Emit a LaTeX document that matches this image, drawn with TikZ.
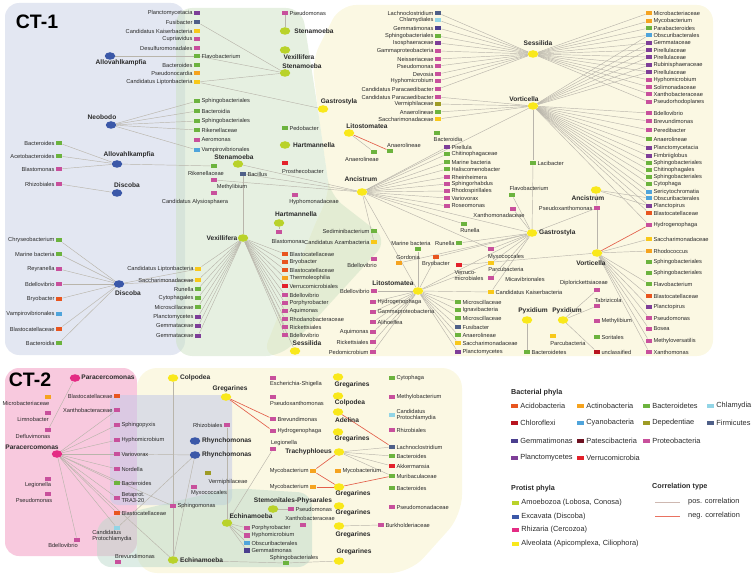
\documentclass[tikz,border=0pt]{standalone}
\usepackage{fontspec}
\setmainfont{Liberation Sans}
\usetikzlibrary{shapes.geometric}
\definecolor{acido}{HTML}{E8551F}
\definecolor{actino}{HTML}{F5A31F}
\definecolor{bactd}{HTML}{6CB33E}
\definecolor{chlam}{HTML}{92D5E6}
\definecolor{chloro}{HTML}{B8141F}
\definecolor{cyano}{HTML}{4FA4DB}
\definecolor{depend}{HTML}{9E9B25}
\definecolor{firmi}{HTML}{4F6088}
\definecolor{gemma}{HTML}{4B3F8F}
\definecolor{patesL}{HTML}{6E1222}
\definecolor{pates}{HTML}{F8C81A}
\definecolor{proteo}{HTML}{C8509C}
\definecolor{plancto}{HTML}{7E3E98}
\definecolor{verruco}{HTML}{E3212B}
\definecolor{amoeb}{HTML}{B9D22A}
\definecolor{excav}{HTML}{3B58A8}
\definecolor{rhiz}{HTML}{E42C84}
\definecolor{alveo}{HTML}{F9E81B}
\definecolor{edgec}{HTML}{B9B5AB}
\definecolor{negc}{HTML}{E35F4A}
\definecolor{txt}{HTML}{2A2A2A}
\definecolor{rgBlue}{HTML}{E3E7F2}
\definecolor{rgGreen}{HTML}{CDE2C4}
\definecolor{rgYellow}{HTML}{FBF8E3}
\definecolor{rgPink}{HTML}{F8C9DE}
\definecolor{rgBlueB}{HTML}{C4CAE8}
\definecolor{rgTeal}{HTML}{BCDACB}
\pgfdeclarelayer{bg}
\pgfdeclarelayer{edges}
\pgfsetlayers{bg,edges,main}
\tikzset{
 sq/.style={rectangle, minimum width=6.6pt, minimum height=4.6pt, inner sep=0pt},
 pr/.style={ellipse, minimum width=10.5pt, minimum height=7.5pt, inner sep=0pt},
 lab/.style={font=\fontsize{5.7}{5.9}\selectfont, inner sep=0.8pt, text=txt, align=left},
 plab/.style={font=\bfseries\fontsize{6.6}{7}\selectfont, inner sep=0.5pt, text=txt},
 ed/.style={draw=edgec, line width=0.45pt},
 neg/.style={draw=negc, line width=0.65pt},
 lsq/.style={rectangle, minimum width=7pt, minimum height=4.6pt, inner sep=0pt},
 ltx/.style={font=\fontsize{7.4}{8}\selectfont, inner sep=0pt, text=txt},
 lhd/.style={font=\bfseries\fontsize{7.2}{8}\selectfont, inner sep=0pt, text=txt, anchor=west},
 ttl/.style={font=\bfseries\fontsize{19.5}{20}\selectfont, inner sep=0pt, text=black},
}
\newcommand\SL[4]{\node[sq,fill=#2] (#1) at (#3) {};\node[lab,anchor=east] (#1t) at (#1.west) {#4};}
\newcommand\SR[4]{\node[sq,fill=#2] (#1) at (#3) {};\node[lab,anchor=west] (#1t) at (#1.east) {#4};}
\newcommand\SX[5]{\node[sq,fill=#2] (#1) at (#3) {};\node[lab] (#1t) at (#4) {#5};}
\newcommand\PX[5]{\node[pr,fill=#2] (#1) at (#3) {};\node[plab] (#1t) at (#4) {#5};}
\newcommand\PR[4]{\node[pr,fill=#2] (#1) at (#3) {};\node[plab,anchor=west] (#1t) at ([xshift=1pt]#1.east) {#4};}
\newcommand\PLL[4]{\node[pr,fill=#2] (#1) at (#3) {};\node[plab,anchor=east] (#1t) at ([xshift=-1pt]#1.west) {#4};}
\newcommand\LG[4]{\node[lsq,fill=#2] (#1) at (#3) {};\node[ltx,anchor=west] (#1t) at ([xshift=2.5pt]#1.east) {#4};}
\begin{document}
\begin{tikzpicture}[x=1pt,y=-1pt]
\useasboundingbox (0,0) rectangle (753,575);
% ---------------- CT-1 ----------------
\node[ttl] (ct1) at (37,22) {CT-1};
\SL{a1}{plancto}{197,13}{Planctomycetacia}
\SL{a2}{firmi}{197,22}{Fusibacter}
\SL{a3}{pates}{197,31}{Candidatus Kaiserbacteria}
\SL{a4}{proteo}{197,39}{Cupriavidus}
\SL{a5}{proteo}{197,48}{Desulfuromonadales}
\SR{a6}{bactd}{197,56}{Flavobacterium}
\SL{a7}{bactd}{197,65}{Bacteroides}
\SL{a8}{actino}{197,73}{Pseudonocardia}
\SL{a9}{pates}{197,82}{Candidatus Liptonbacteria}
\PX{pA1}{excav}{110,56}{121,63}{Allovahlkampfia}
\PX{pNeo}{excav}{111,125}{102,117}{Neobodo}
\SR{b1}{bactd}{197,101}{Sphingobacteriales}
\SR{b2}{bactd}{197,111}{Bacteroidia}
\SR{b3}{bactd}{197,121}{Sphingobacteriales}
\SR{b4}{bactd}{197,130}{Rikenellaceae}
\SR{b5}{proteo}{197,140}{Aeromonas}
\SR{b6}{cyano}{197,150}{Vampirovibrionales}
\SL{c1}{bactd}{59,143}{Bacteroides}
\SL{c2}{bactd}{59,156}{Acetobacteroides}
\SL{c3}{proteo}{59,169}{Blastomonas}
\SL{c4}{proteo}{59,184}{Rhizobiales}
\PX{pA2}{excav}{117,164}{129,155}{Allovahlkampfia}
\PX{pDis1}{excav}{117,193}{127,185}{Discoba}
\SL{c5}{bactd}{59,240}{Chryseobacterium}
\SL{c6}{bactd}{59,254}{Marine bacteria}
\SL{c7}{proteo}{59,269}{Reyranella}
\SL{c8}{proteo}{59,284}{Bdellovibrio}
\SL{c9}{acido}{59,299}{Bryobacter}
\SL{c10}{cyano}{59,314}{Vampirovibrionales}
\SL{c11}{acido}{59,329}{Blastocatellaceae}
\SL{c12}{bactd}{59,343}{Bacteroidia}
\PX{pDis2}{excav}{119,284}{128,293}{Discoba}
% green area
\SR{d1}{proteo}{285,13}{Pseudomonas}
\PX{pSt1}{amoeb}{285,31}{314,31}{Stenamoeba}
\PX{pVex1}{amoeb}{285,50}{299,57}{Vexillifera}
\PX{pSt2}{amoeb}{285,73}{302,66}{Stenamoeba}
\SX{b7}{bactd}{214,166}{206,173}{Rikenellaceae}
\PX{pSt3}{amoeb}{238,164}{234,157}{Stenamoeba}
\SR{b8}{firmi}{243,174}{Bacillus}
\SX{b9}{proteo}{214,180}{232,187}{Methylibium}
\SX{b10}{proteo}{214,193}{195,202}{Candidatus Alysiosphaera}
\PX{pVex2}{amoeb}{243,238}{222,238}{Vexillifera}
\SL{e1}{pates}{198,269}{Candidatus Liptonbacteria}
\SL{e2}{pates}{198,280}{Saccharimonadaceae}
\SL{e3}{bactd}{198,289}{Runella}
\SL{e4}{bactd}{198,298}{Cytophagales}
\SL{e5}{bactd}{198,307}{Microscillaceae}
\SL{e6}{plancto}{198,317}{Planctomycetes}
\SL{e7}{plancto}{198,326}{Gemmataceae}
\SL{e8}{plancto}{198,336}{Gemmataceae}
\SR{f1}{acido}{285,254}{Blastocatellaceae}
\SR{f2}{acido}{285,262}{Bryobacter}
\SR{f3}{acido}{285,270}{Blastocatellaceae}
\SR{f4}{actino}{285,278}{Thermoleophilia}
\SR{f5}{verruco}{285,286}{Verrucomicrobiales}
\SR{f6}{proteo}{285,295}{Bdellovibrio}
\SR{f7}{proteo}{285,303}{Porphyrobacter}
\SR{f8}{proteo}{285,311}{Aquimonas}
\SR{f9}{proteo}{285,319}{Rhodanobacteraceae}
\SR{f10}{proteo}{285,327}{Rickettsiales}
\SR{f11}{proteo}{285,335}{Bdellovibrio}
\PX{pSes2}{alveo}{295,351}{307,343}{Sessilida}
\SR{g1}{bactd}{285,128}{Pedobacter}
\PX{pHar1}{amoeb}{285,145}{314,145}{Hartmannella}
\SX{g2}{verruco}{285,163}{303,171}{Prosthecobacter}
\SX{g3}{proteo}{295,195}{314,202}{Hyphomonadaceae}
\PX{pHar2}{amoeb}{279,223}{296,214}{Hartmannella}
\SX{g4}{proteo}{279,232}{288,241}{Blastomonas}
\SL{g5}{bactd}{374,231}{Sediminibacterium}
\SL{g6}{pates}{374,242}{Candidatus Azambacteria}
\SX{g7}{proteo}{374,259}{362,265}{Bdellovibrio}
\PX{pAnc1}{alveo}{362,192}{361,179}{Ancistrum}
\SX{h1}{bactd}{374,152}{362,159}{Anaerolineae}
\SX{h2}{bactd}{390,151}{404,145}{Anaerolineae}
\PX{pLit1}{alveo}{349,133}{367,126}{Litostomatea}
\PX{pGas1}{alveo}{323,109}{339,102}{Gastrostyla}
\SX{i0}{bactd}{437,133}{448,139}{Bacteroidia}
\SR{i1}{plancto}{447,147}{Pirellula}
\SR{i2}{bactd}{447,154}{Chitinophagaceae}
\SR{i3}{bactd}{447,162}{Marine bacteria}
\SR{i4}{bactd}{447,169}{Haliscomenobacter}
\SR{i5}{proteo}{447,177}{Rheinheimera}
\SR{i6}{proteo}{447,184}{Sphingorhabdus}
\SR{i7}{proteo}{447,191}{Rhodospirillales}
\SR{i8}{proteo}{447,198}{Variovorax}
\SR{i9}{proteo}{447,206}{Roseomonas}
\SL{j1}{firmi}{438,13}{Lachnoclostridium}
\SL{j2}{chlam}{438,20}{Chlamydiales}
\SL{j3}{gemma}{438,28}{Gemmatimonas}
\SL{j4}{bactd}{438,36}{Sphingobacteriales}
\SL{j5}{plancto}{438,43}{Isosphaeraceae}
\SL{j6}{proteo}{438,51}{Gammaproteobacteria}
\SL{j7}{proteo}{438,59}{Neisseriaceae}
\SL{j8}{proteo}{438,66}{Pseudomonas}
\SL{j9}{proteo}{438,74}{Devosia}
\SL{j10}{proteo}{438,81}{Hyphomicrobium}
\SL{j11}{proteo}{438,89}{Candidatus Paracaedibacter}
\SL{j12}{proteo}{438,97}{Candidatus Paracaedibacter}
\SL{j13}{depend}{438,104}{Vermiphilaceae}
\SL{j14}{bactd}{438,112}{Anaerolineae}
\SL{j15}{pates}{438,119}{Saccharimonadaceae}
\PX{pSes1}{alveo}{533,54}{538,43}{Sessilida}
\PX{pVor1}{alveo}{533,106}{524,99}{Vorticella}
\SR{k1}{actino}{649,13}{Microbacteriaceae}
\SR{k2}{actino}{649,21}{Mycobacterium}
\SR{k3}{bactd}{649,28}{Parabacteroides}
\SR{k4}{cyano}{649,35}{Obscuribacterales}
\SR{k5}{plancto}{649,43}{Gemmataceae}
\SR{k6}{plancto}{649,50}{Pirellulaceae}
\SR{k7}{plancto}{649,57}{Pirellulaceae}
\SR{k8}{plancto}{649,65}{Rubinisphaeraceae}
\SR{k9}{plancto}{649,72}{Pirellulaceae}
\SR{k10}{proteo}{649,80}{Hyphomicrobium}
\SR{k11}{proteo}{649,87}{Solimonadaceae}
\SR{k12}{proteo}{649,94}{Xanthobacteraceae}
\SR{k13}{proteo}{649,102}{Pseudorhodoplanes}
\SR{l1}{proteo}{649,113}{Bdellovibrio}
\SR{l2}{proteo}{649,121}{Brevundimonas}
\SR{l3}{proteo}{649,130}{Peredibacter}
\SR{l4}{bactd}{649,139}{Anaerolineae}
\SR{l5}{plancto}{649,148}{Planctomycetacia}
\SR{l6}{plancto}{649,156}{Fimbriiglobus}
\SR{l7}{bactd}{649,163}{Sphingobacteriales}
\SR{l8}{bactd}{649,170}{Chitinophagales}
\SR{l9}{bactd}{649,177}{Sphingobacteriales}
\SR{l10}{bactd}{649,184}{Cytophaga}
\SR{l11}{cyano}{649,192}{Sericytochromatia}
\SR{l12}{cyano}{649,198}{Obscuribacterales}
\SR{l13}{plancto}{649,206}{Planctopirus}
\SR{l14}{acido}{649,213}{Blastocatellaceae}
\SR{l15}{proteo}{649,225}{Hydrogenophaga}
\SR{l16}{pates}{649,239}{Saccharimonadaceae}
\SR{l17}{actino}{649,251}{Rhodococcus}
\SR{l18}{bactd}{649,262}{Sphingobacteriales}
\SR{l19}{bactd}{649,273}{Sphingobacteriales}
\SR{l20}{bactd}{649,284}{Flavobacterium}
\SR{l21}{acido}{649,296}{Blastocatellaceae}
\SR{l22}{plancto}{649,307}{Planctopirus}
\SR{l23}{proteo}{649,318}{Pseudomonas}
\SR{l24}{proteo}{649,329}{Bosea}
\SR{l25}{proteo}{649,341}{Methyloversatilis}
\SR{l26}{proteo}{649,352}{Xanthomonas}
\SR{m1}{bactd}{533,163}{Lacibacter}
\PR{pGas2}{alveo}{532,233}{Gastrostyla}
\PX{pAnc2}{alveo}{596,190}{588,198}{Ancistrum}
\SL{m2}{proteo}{597,208}{Pseudoxanthomonas}
\PX{pVor2}{alveo}{597,253}{591,263}{Vorticella}
\SX{m3}{bactd}{512,195}{529,188}{Flavobacterium}
\SX{m4}{proteo}{513,209}{499,215}{Xanthomonadaceae}
\SX{m5}{bactd}{464,224}{470,230}{Runella}
\SX{m6}{bactd}{418,249}{411,243}{Marine bacteria}
\SL{m7}{bactd}{459,243}{Runella}
\SX{m8}{actino}{399,263}{408,257}{Gordonia}
\SX{m9}{acido}{436,257}{436,264}{Bryobacter}
\SX{m10}{verruco}{459,265}{469,276}{Verruco-\\microbiales}
\SX{m11}{proteo}{491,249}{506,257}{Myxococcales}
\SX{m12}{pates}{491,263}{506,269}{Parcubacteria}
\SX{m13}{proteo}{491,278}{525,279}{Micavibrionales}
\SR{m14}{pates}{491,292}{Candidatus Kaiserbacteria}
\PX{pLit2}{alveo}{418,291}{393,283}{Litostomatea}
\SL{m15}{proteo}{374,291}{Bdellovibrio}
\SR{n1}{proteo}{373,302}{Hydrogenophaga}
\SR{n2}{proteo}{373,312}{Gammaproteobacteria}
\SR{n3}{proteo}{373,322}{Alihoeflea}
\SL{n4}{proteo}{373,332}{Aquimonas}
\SL{n5}{proteo}{373,342}{Rickettsiales}
\SL{n6}{proteo}{373,352}{Pedomicrobium}
\SR{o1}{bactd}{458,302}{Microscillaceae}
\SR{o2}{bactd}{458,310}{Ignavibacteria}
\SR{o3}{bactd}{458,318}{Microscillaceae}
\SR{o4}{firmi}{458,327}{Fusibacter}
\SR{o5}{bactd}{458,335}{Anaerolineae}
\SR{o6}{pates}{458,343}{Saccharimonadaceae}
\SR{o7}{plancto}{458,352}{Planctomycetes}
\SX{m16}{proteo}{597,290}{584,283}{Diplorickettsiaceae}
\SX{m17}{proteo}{597,306}{608,300}{Tabrizicola}
\SR{m18}{proteo}{597,321}{Methylibium}
\SR{m19}{bactd}{597,337}{Soritales}
\SR{m20}{chloro}{597,352}{unclassified}
\PX{pPyx1}{alveo}{527,320}{533,311}{Pyxidium}
\PX{pPyx2}{alveo}{563,320}{567,311}{Pyxidium}
\SX{m21}{pates}{553,336}{568,343}{Parcubacteria}
\SR{m22}{bactd}{527,352}{Bacteroidetes}
% ---------------- CT-2 ----------------
\node[ttl] (ct2) at (30,380) {CT-2};
\SX{q1}{actino}{48,397}{26,403}{Microbacteriaceae}
\SX{q2}{proteo}{48,413}{33,419}{Limnobacter}
\SX{q3}{proteo}{48,430}{33,436}{Defluvimonas}
\PX{pPar1}{rhiz}{75,378}{108,377}{Paracercomonas}
\SL{q4}{acido}{117,396}{Blastocatellaceae}
\SL{q5}{proteo}{117,410}{Xanthobacteraceae}
\SR{q6}{proteo}{117,425}{Sphingopyxis}
\SR{q7}{proteo}{117,440}{Hyphomicrobium}
\SR{q8}{proteo}{117,454}{Variovorax}
\SR{q9}{proteo}{117,469}{Nordella}
\SR{q10}{bactd}{117,483}{Bacteroides}
\SR{q11}{proteo}{117,498}{Betaprot.\\TRA3-20}
\SR{q12}{acido}{117,513}{Blastocatellaceae}
\SX{q13}{chlam}{117,528}{112,536}{Candidatus\\Protochlamydia}
\PX{pPar2}{rhiz}{57,454}{32,447}{Paracercomonas}
\SX{q14}{proteo}{48,479}{38,485}{Legionella}
\SX{q15}{proteo}{48,494}{34,500}{Pseudomonas}
\SX{q16}{proteo}{77,540}{63,545}{Bdellovibrio}
\PR{pRhy1}{excav}{195,441}{Rhynchomonas}
\PR{pRhy2}{excav}{195,455}{Rhynchomonas}
\SL{q17}{proteo}{227,425}{Rhizobiales}
\SX{q18}{depend}{208,473}{228,482}{Vermiphilaceae}
\SX{q19}{proteo}{194,487}{209,493}{Myxococcales}
\SR{q20}{proteo}{173,506}{Sphingomonas}
\PR{pEch1}{amoeb}{173,560}{Echinamoeba}
\SX{q21}{proteo}{118,562}{135,556}{Brevundimonas}
\PR{pCol1}{alveo}{173,378}{Colpodea}
\PX{pGre1}{alveo}{226,397}{230,389}{Gregarines}
\SX{r1}{proteo}{273,378}{296,384}{Escherichia-Shigella}
\SX{r2}{proteo}{273,397}{297,403}{Pseudoxanthomonas}
\SR{r3}{proteo}{273,419}{Brevundimonas}
\SR{r4}{proteo}{273,431}{Hydrogenophaga}
\SX{r5}{proteo}{273,449}{284,443}{Legionella}
\PX{pGre2}{alveo}{338,377}{352,385}{Gregarines}
\PX{pCol2}{alveo}{338,396}{350,403}{Colpodea}
\PX{pAde}{alveo}{338,412}{347,420}{Adelina}
\PX{pGre3}{alveo}{338,432}{352,439}{Gregarines}
\SR{s1}{bactd}{392,378}{Cytophaga}
\SR{s2}{proteo}{392,397}{Methylobacterium}
\SR{s3}{chlam}{392,415}{Candidatus\\Protochlamydia}
\SR{s4}{proteo}{392,430}{Rhizobiales}
\PLL{pTra}{alveo}{339,452}{Trachyphloeus}
\SR{s5}{firmi}{392,447}{Lachnoclostridium}
\SR{s6}{bactd}{392,456}{Bacteroides}
\SR{s7}{verruco}{392,466}{Akkermansia}
\SR{s8}{bactd}{392,476}{Muribaculaceae}
\SR{s9}{bactd}{392,488}{Bacteroides}
\SR{s10}{proteo}{392,507}{Pseudomonadaceae}
\SL{t1}{actino}{313,471}{Mycobacterium}
\SL{t2}{actino}{313,487}{Mycobacterium}
\SR{t3}{actino}{338,471}{Mycobacterium}
\PX{pGre4}{alveo}{339,487}{353,494}{Gregarines}
\PX{pSte}{amoeb}{273,509}{293,501}{Stemonitales-Physarales}
\SR{t4}{proteo}{291,509}{Pseudomonas}
\PX{pGre5}{alveo}{339,506}{353,513}{Gregarines}
\SX{t5}{proteo}{303,525}{310,518}{Xanthobacteraceae}
\PX{pGre6}{alveo}{339,526}{353,535}{Gregarines}
\SR{t6}{proteo}{381,525}{Burkholderiaceae}
\PX{pGre7}{alveo}{339,561}{354,552}{Gregarines}
\PX{pEch2}{amoeb}{227,523}{251,516}{Echinamoeba}
\SR{u1}{proteo}{247,528}{Porphyrobacter}
\SR{u2}{proteo}{247,535.5}{Hyphomicrobium}
\SR{u3}{cyano}{247,543}{Obscuribacterales}
\SR{u4}{gemma}{247,550.5}{Gemmatimonas}
\SX{u5}{bactd}{286,563}{294,558}{Sphingobacteriales}
% ---------------- legend ----------------
\node[lhd] (lh1) at (511,393) {Bacterial phyla};
\LG{L1}{acido}{514,406}{Acidobacteria}
\LG{L2}{actino}{580,406}{Actinobacteria}
\LG{L3}{bactd}{646,406}{Bacteroidetes}
\LG{L4}{chlam}{710,406}{Chlamydia}
\LG{L5}{chloro}{514,423}{Chloroflexi}
\LG{L6}{cyano}{580,423}{Cyanobacteria}
\LG{L7}{depend}{646,423}{Depedentiae}
\LG{L8}{firmi}{710,423}{Firmicutes}
\LG{L9}{gemma}{514,441}{Gemmatimonas}
\LG{L10}{patesL}{580,441}{Patescibacteria}
\LG{L11}{proteo}{646,441}{Proteobacteria}
\LG{L12}{plancto}{514,458}{Planctomycetes}
\LG{L13}{verruco}{580,458}{Verrucomicrobia}
\node[lhd] (lh2) at (511,489) {Protist phyla};
\LG{P1}{amoeb}{515,503}{Amoebozoa (Lobosa, Conosa)}
\LG{P2}{excav}{515,517}{Excavata (Discoba)}
\LG{P3}{rhiz}{515,530}{Rhizaria (Cercozoa)}
\LG{P4}{alveo}{515,544}{Alveolata (Apicomplexa, Ciliophora)}
\node[lhd] (lh3) at (652,487) {Correlation type};
\coordinate (cp1) at (655,502); \coordinate (cp2) at (680,502);
\coordinate (cn1) at (655,516); \coordinate (cn2) at (680,516);
\draw[draw=edgec!70!pink, line width=0.6pt] (cp1) -- (cp2);
\draw[draw=negc!80!pink, line width=0.6pt] (cn1) -- (cn2);
\node[ltx,anchor=west] (cpt) at (688,502) {pos. correlation};
\node[ltx,anchor=west] (cnt) at (688,516) {neg. correlation};
% ---------------- edges ----------------
\begin{pgfonlayer}{edges}
\foreach \u/\v in {pA1/a6, a2/pSt2, a6/pSt2, a9/pSt2, a9/pGas1,
 pNeo/b1, pNeo/b2, pNeo/b3, pNeo/b4, pNeo/b6,
 c1/pA2, c2/pA2, c3/pA2, pA2/b7, c4/pDis1,
 c5/pDis2, c6/pDis2, c7/pDis2, c8/pDis2, c9/pDis2, c11/pDis2, c12/pDis2, pDis2/e1, pDis2/e2,
 d1/pSt1, b8/pVex2, b8/pAnc1, b9/pAnc1, pSt3/pAnc1,
 pVex2/e1, pVex2/e2, pVex2/e3, pVex2/e4, pVex2/e5, pVex2/e6, pVex2/e7, pVex2/e8,
 pVex2/f1, pVex2/f2, pVex2/f3, pVex2/f4, pVex2/f5, pVex2/f6, pVex2/f7, pVex2/f8, pVex2/f9, pVex2/f10, pVex2/f11, pVex2/pSes2,
 pHar2/g4, pLit1/h1,
 pAnc1/i1, pAnc1/i2, pAnc1/i3, pAnc1/i4, pAnc1/i5, pAnc1/i6, pAnc1/i7, pAnc1/i8, pAnc1/i9,
 pAnc1/g6, pAnc1/m5, pAnc1/pGas2, pAnc1/pLit2, pAnc1/m11, pAnc1/pVor1,
 j1/pSes1, j2/pSes1, j3/pSes1, j4/pSes1, j5/pSes1, j6/pSes1, j7/pSes1, j8/pSes1, j9/pSes1, j10/pSes1, j11/pSes1,
 j12/pVor1, j13/pVor1, j14/pVor1, j15/pVor1,
 pSes1/k1, pSes1/k2, pSes1/k3, pSes1/k4, pSes1/k5, pSes1/k6, pSes1/k7, pSes1/k8, pSes1/k9, pSes1/k10, pSes1/k11, pSes1/k12, pSes1/k13,
 pVor1/k4, pVor1/k5, pVor1/k6, pVor1/k7, pVor1/k8, pVor1/k9,
 pVor1/l1, pVor1/l2, pVor1/l3, pVor1/l4, pVor1/l5, pVor1/l6, pVor1/l7, pVor1/l8, pVor1/l9, pVor1/l10, pVor1/l11, pVor1/l12, pVor1/l13, pVor1/l14, pVor1/l15,
 pVor1/m1, m1/pGas2,
 pAnc2/l12, pAnc2/l13, pAnc2/m2, m2/pVor2, pGas2/m2,
 pVor2/l16, pVor2/l17, pVor2/l20, pVor2/l21, pVor2/l22, pVor2/l23, pVor2/l24, pVor2/l25, pVor2/l26, m10/pVor2,
 pPyx2/m16, pPyx2/m17, pPyx2/m20, pPyx1/m22,
 pGas2/m3, pGas2/m4, pGas2/m7, pGas2/m8, pGas2/m9, pGas2/m11, pGas2/m12, pGas2/m13, pGas2/m14, pGas2/pLit2,
 pLit2/m15, pLit2/n1, pLit2/n2, pLit2/n3, pLit2/n4, pLit2/n5, pLit2/n6,
 pLit2/o1, pLit2/o2, pLit2/o3, pLit2/o4, pLit2/o5, pLit2/o6, pLit2/o7,
 pLit2/m6, pLit2/m9, pLit2/m12, pLit2/m14,
 pPar1/q3, pPar2/q5, pPar2/q6, pPar2/q7, pPar2/q8, pPar2/q9, pPar2/q10, pPar2/q11, pPar2/q12, pPar2/q13, pPar2/q16, pPar2/q20, pPar2/pEch1,
 pRhy2/q8, pRhy2/q13, pRhy2/pEch1, q17/pEch2,
 pCol1/pEch1, pEch2/r5, pEch2/u1, pEch2/u2, pEch2/u3, pEch2/u4, pEch1/u5, u5/pGre7,
 pTra/s5, pTra/s6, pTra/s7, pTra/s8, pSte/t4, pGre6/t6}
 \draw[ed] (\u) -- (\v);
\foreach \u/\v in {pLit1/h2, pVor2/l15, pGre1/r3, pGre1/r4, pAde/s5, pTra/t1, t1/pGre4, t2/pGre4, pGre4/s8}
 \draw[neg] (\u) -- (\v);
\end{pgfonlayer}
% ---------------- regions ----------------
\begin{pgfonlayer}{bg}
\fill[rgBlue, rounded corners=14pt] (5,3) rectangle (185,355);
\fill[rgYellow, rounded corners=16pt] (340,5) -- (713,5) -- (713,356) -- (262,356) -- (320,212) -- (330,195) -- (318,110) -- (312,60) -- cycle;
\fill[rgGreen, fill opacity=.5, rounded corners=16pt] (176,8) -- (302,8) -- (318,110) -- (330,195) -- (388,240) -- (282,356) -- (176,356) -- cycle;
\fill[rgPink, rounded corners=14pt] (5,368) rectangle (137,556);
\fill[rgYellow, rounded corners=20pt] (137,368) -- (462,368) -- (462,515) -- (410,573) -- (137,573) -- cycle;
\fill[rgBlueB, fill opacity=.55, rounded corners=8pt] (110,395) rectangle (232,505);
\fill[rgTeal, fill opacity=.5, rounded corners=14pt] (97,520) -- (232,488) -- (312,493) -- (312,567) -- (97,567) -- cycle;
\end{pgfonlayer}
\end{tikzpicture}
\end{document}
